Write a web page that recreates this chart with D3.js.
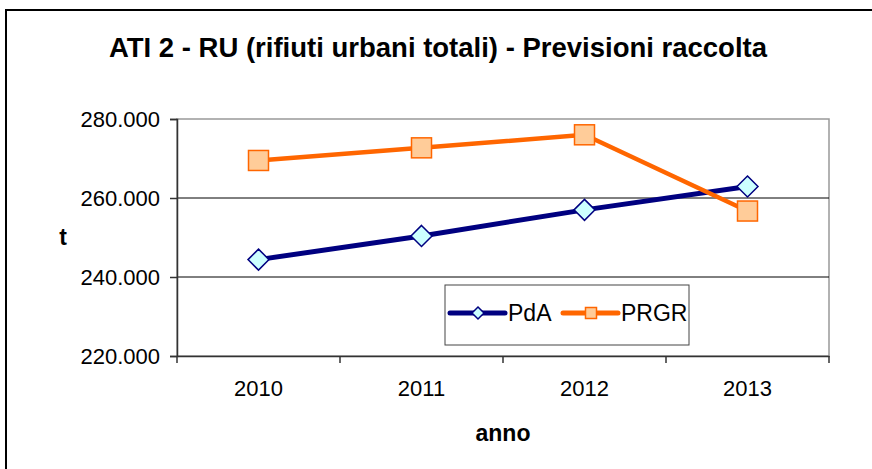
<!DOCTYPE html>
<html>
<head>
<meta charset="utf-8">
<script src="https://cdn.jsdelivr.net/npm/d3@7"></script>
<style>
  body { margin: 0; background: #fff; }
  text { font-family: Arial, "Liberation Sans", sans-serif; }
</style>
</head>
<body>
<div id="chart"></div>
<script>
var years = ["2010", "2011", "2012", "2013"];
var pdaValues = [244400, 250400, 257000, 262900];
var prgrValues = [269500, 272700, 276000, 256700];
var yTicks = [220000, 240000, 260000, 280000];
var seriesNames = ["PdA", "PRGR"];

(function(){
  var width = 872, height = 469;
  var plotLeft = 177, plotRight = 829, plotTop = 119, plotBottom = 356;

  var svg = d3.select("#chart").append("svg")
    .attr("width", width)
    .attr("height", height);

  svg.append("rect").attr("width", width).attr("height", height).attr("fill", "#fff");

  // outer frame (only left and top edge visible)
  svg.append("rect")
    .attr("x", 6).attr("y", 10)
    .attr("width", 900).attr("height", 500)
    .attr("fill", "none").attr("stroke", "#000").attr("stroke-width", 2);

  svg.append("text")
    .attr("x", 438).attr("y", 57)
    .attr("text-anchor", "middle")
    .attr("font-size", 27.5).attr("font-weight", "bold")
    .text("ATI 2 - RU (rifiuti urbani totali) - Previsioni raccolta");

  var x = d3.scaleBand().domain(years).range([plotLeft, plotRight]);
  var y = d3.scaleLinear().domain([220000, 280000]).range([plotBottom, plotTop]);

  // plot area border
  svg.append("rect")
    .attr("x", plotLeft).attr("y", plotTop)
    .attr("width", plotRight - plotLeft).attr("height", plotBottom - plotTop)
    .attr("fill", "none").attr("stroke", "#999").attr("stroke-width", 1.5);

  // gridlines
  svg.selectAll(".grid")
    .data(yTicks.filter(function(d){ return d > 220000 && d < 280000; }))
    .enter().append("line")
    .attr("x1", plotLeft).attr("x2", plotRight)
    .attr("y1", function(d){ return y(d); })
    .attr("y2", function(d){ return y(d); })
    .attr("stroke", "#000").attr("stroke-width", 1);

  var fmt = function(d){ return d3.format(",")(d).replace(/,/g, "."); };

  var yAxis = svg.append("g")
    .attr("transform", "translate(" + plotLeft + ",0)")
    .call(d3.axisLeft(y).tickValues(yTicks).tickFormat(fmt).tickSize(7).tickPadding(10));

  var xAxis = svg.append("g")
    .attr("transform", "translate(0," + plotBottom + ")")
    .call(d3.axisBottom(x).tickSize(0).tickPadding(24));

  // category boundary ticks
  var bounds = years.map(function(d){ return x(d); }).concat([plotRight]);
  svg.selectAll(".xtick")
    .data(bounds)
    .enter().append("line")
    .attr("x1", function(d){ return d; }).attr("x2", function(d){ return d; })
    .attr("y1", plotBottom).attr("y2", plotBottom + 7)
    .attr("stroke", "#333").attr("stroke-width", 1.5);

  [yAxis, xAxis].forEach(function(a){
    a.select(".domain").attr("stroke", "#333").attr("stroke-width", 1.5);
    a.selectAll(".tick line").attr("stroke", "#333").attr("stroke-width", 1.5);
    a.selectAll("text").attr("font-size", 22).attr("fill", "#000")
      .attr("font-family", "Arial, 'Liberation Sans', sans-serif");
  });

  svg.append("text")
    .attr("x", 63).attr("y", 245)
    .attr("text-anchor", "middle")
    .attr("font-size", 23).attr("font-weight", "bold")
    .text("t");

  svg.append("text")
    .attr("x", 503).attr("y", 441)
    .attr("text-anchor", "middle")
    .attr("font-size", 23).attr("font-weight", "bold")
    .text("anno");

  var cx = function(d, i){ return x(years[i]) + x.bandwidth() / 2; };

  var line = d3.line()
    .x(function(d, i){ return cx(d, i); })
    .y(function(d){ return y(d); });

  svg.append("path").datum(pdaValues)
    .attr("d", line).attr("fill", "none")
    .attr("stroke", "#000080").attr("stroke-width", 5);

  svg.append("path").datum(prgrValues)
    .attr("d", line).attr("fill", "none")
    .attr("stroke", "#FF6600").attr("stroke-width", 4.5);

  var diamond = function(s){ return "M0," + (-s) + "L" + s + ",0L0," + s + "L" + (-s) + ",0Z"; };

  svg.selectAll(".pda")
    .data(pdaValues)
    .enter().append("path")
    .attr("transform", function(d, i){ return "translate(" + cx(d, i) + "," + y(d) + ")"; })
    .attr("d", diamond(10.5))
    .attr("fill", "#CCFFFF").attr("stroke", "#000080").attr("stroke-width", 1.5);

  svg.selectAll(".prgr")
    .data(prgrValues)
    .enter().append("rect")
    .attr("x", function(d, i){ return cx(d, i) - 10; })
    .attr("y", function(d){ return y(d) - 10; })
    .attr("width", 20).attr("height", 20)
    .attr("fill", "#FFCC99").attr("stroke", "#FF6600").attr("stroke-width", 1.5);

  // legend
  var legend = svg.append("g");
  legend.append("rect")
    .attr("x", 445).attr("y", 285)
    .attr("width", 244).attr("height", 60)
    .attr("fill", "#fff").attr("stroke", "#444").attr("stroke-width", 1);

  var legendItems = [
    { name: seriesNames[0], color: "#000080", fill: "#CCFFFF", x0: 450, shape: "diamond" },
    { name: seriesNames[1], color: "#FF6600", fill: "#FFCC99", x0: 563, shape: "square" }
  ];
  var ly = 313;
  legendItems.forEach(function(it){
    legend.append("line")
      .attr("x1", it.x0).attr("x2", it.x0 + 55)
      .attr("y1", ly).attr("y2", ly)
      .attr("stroke", it.color).attr("stroke-width", 5).attr("stroke-linecap", "round");
    if (it.shape === "diamond") {
      legend.append("path")
        .attr("transform", "translate(" + (it.x0 + 28) + "," + ly + ")")
        .attr("d", diamond(6))
        .attr("fill", it.fill).attr("stroke", it.color).attr("stroke-width", 1.5);
    } else {
      legend.append("rect")
        .attr("x", it.x0 + 28 - 5.5).attr("y", ly - 5.5)
        .attr("width", 11).attr("height", 11)
        .attr("fill", it.fill).attr("stroke", it.color).attr("stroke-width", 1.5);
    }
    legend.append("text")
      .attr("x", it.x0 + 58).attr("y", ly + 8)
      .attr("font-size", 23)
      .text(it.name);
  });
})();
</script>
</body>
</html>
